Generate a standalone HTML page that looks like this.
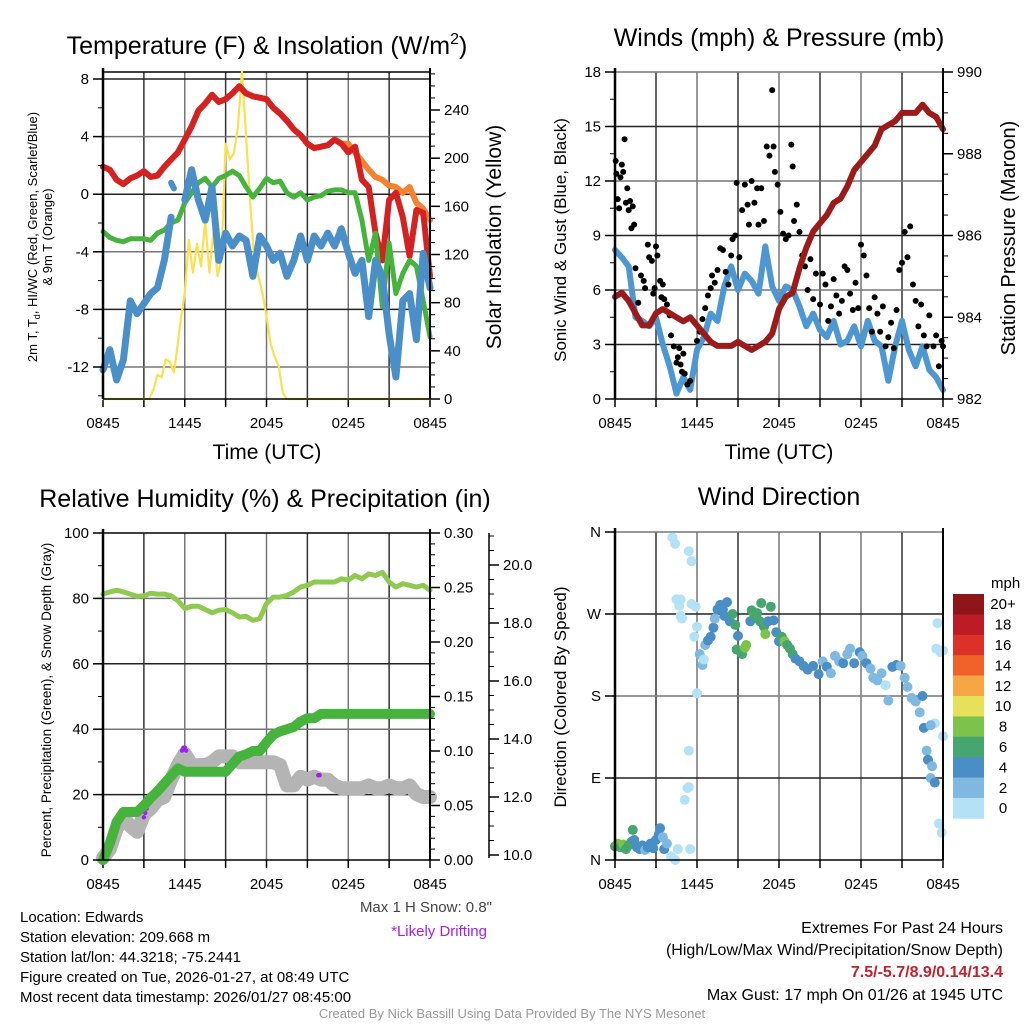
<!DOCTYPE html>
<html><head><meta charset="utf-8"><style>
body{margin:0;background:#fff}
svg{display:block;font-family:"Liberation Sans",sans-serif}
</style></head><body>
<svg id="fig" width="1024" height="1024" viewBox="0 0 1024 1024" xmlns="http://www.w3.org/2000/svg">
<text x="267" y="54" font-size="25" text-anchor="middle">Temperature (F) &amp; Insolation (W/m<tspan font-size="16" dy="-10">2</tspan><tspan dy="10">)</tspan></text>
<text x="779" y="46" font-size="25" text-anchor="middle">Winds (mph) &amp; Pressure (mb)</text>
<text x="265" y="507" font-size="25" text-anchor="middle">Relative Humidity (%) &amp; Precipitation (in)</text>
<text x="779" y="505" font-size="25" text-anchor="middle">Wind Direction</text>
<text transform="translate(37,237) rotate(-90)" font-size="13" text-anchor="middle">2m T, T<tspan font-size="9" dy="3">d</tspan><tspan dy="-3">, HI/WC (Red, Green, Scarlet/Blue)</tspan></text>
<text transform="translate(52,237) rotate(-90)" font-size="13" text-anchor="middle">&amp; 9m T (Orange)</text>
<text transform="translate(501,237) rotate(-90)" font-size="21" text-anchor="middle">Solar Insolation (Yellow)</text>
<text transform="translate(566,240) rotate(-90)" font-size="17" text-anchor="middle">Sonic Wind &amp; Gust (Blue, Black)</text>
<text transform="translate(1015,238) rotate(-90)" font-size="20" text-anchor="middle">Station Pressure (Maroon)</text>
<text transform="translate(51,700) rotate(-90)" font-size="13.5" text-anchor="middle">Percent, Precipitation (Green), &amp; Snow Depth (Gray)</text>
<text transform="translate(566,697) rotate(-90)" font-size="17" text-anchor="middle">Direction (Colored By Speed)</text>
<text x="267" y="459" font-size="21" text-anchor="middle">Time (UTC)</text>
<text x="779" y="459" font-size="21" text-anchor="middle">Time (UTC)</text>
<g font-size="15">
<text x="20" y="922">Location: Edwards</text>
<text x="20" y="942">Station elevation: 209.668 m</text>
<text x="20" y="962">Station lat/lon: 44.3218; -75.2441</text>
<text x="20" y="982">Figure created on Tue, 2026-01-27, at 08:49 UTC</text>
<text x="20" y="1002">Most recent data timestamp: 2026/01/27 08:45:00</text>
</g>
<text x="492" y="912" font-size="15" fill="#444" text-anchor="end">Max 1 H Snow: 0.8"</text>
<text x="487" y="936" font-size="15" fill="#a020f0" text-anchor="end">*Likely Drifting</text>
<g font-size="16" text-anchor="end">
<text x="1003" y="933">Extremes For Past 24 Hours</text>
<text x="1003" y="955">(High/Low/Max Wind/Precipitation/Snow Depth)</text>
<text x="1003" y="977" fill="#c8202a" font-weight="bold">7.5/-5.7/8.9/0.14/13.4</text>
<text x="1003" y="1000">Max Gust: 17 mph On 01/26 at 1945 UTC</text>
</g>
<text x="512" y="1018" font-size="13" fill="#999" text-anchor="middle">Created By Nick Bassill Using Data Provided By The NYS Mesonet</text>
</svg>
<script>
// ---- data ----
const halfHours = [0,0.5,1,1.5,2,2.5,3,3.5,4,4.5,5,5.5,6,6.5,7,7.5,8,8.5,9,9.5,10,10.5,11,11.5,12,12.5,13,13.5,14,14.5,15,15.5,16,16.5,17,17.5,18,18.5,19,19.5,20,20.5,21,21.5,22,22.5,23,23.5,24];
const xTickLabels = ["0845","1445","2045","0245","0845"];
const tempRed = [1.9,1.7,1.0,0.7,1.1,1.3,1.6,1.2,1.3,1.9,2.4,2.9,3.8,4.7,5.8,6.3,6.9,6.4,6.6,7.0,7.5,7.0,6.8,6.7,6.6,6.0,5.6,5.1,4.5,4.1,3.5,3.2,3.3,3.4,3.8,3.5,2.9,3.3,1.0,0.5,-2.7,-4.6,-0.4,0.1,-1.6,-4.3,-1.1,-1.3,-5.7];
const tempOrange = [1.9,1.7,1.0,0.7,1.1,1.3,1.6,1.2,1.3,1.9,2.4,2.9,3.8,4.7,5.8,6.3,6.9,6.4,6.6,7.0,7.5,7.0,6.8,6.7,6.6,6.0,5.6,5.1,4.5,4.1,3.5,3.2,3.3,3.4,3.8,3.5,3.5,2.9,2.3,1.7,1.2,1.0,0.6,0.5,0.1,0.5,-0.6,-1.0,-1.8];
const dewGreen = [-2.6,-3.0,-3.2,-3.3,-3.1,-3.1,-3.1,-3.2,-2.7,-2.5,-2.0,-1.8,-0.6,0.1,0.8,1.1,0.5,1.1,1.3,1.6,1.3,0.5,-0.2,0.4,1.1,0.8,0.9,0.1,-0.2,0.1,-0.4,-0.2,-0.1,0.2,0.3,0.3,0.1,0.1,-1.8,-4.6,-2.7,-7.8,-3.4,-6.9,-5.5,-4.6,-5.0,-7.4,-9.9];
const chillBlue = [-12.2,-10.8,-12.9,-11.5,-7.4,-8.3,-7.6,-6.9,-6.5,-4.6,-1.6,null,-0.4,1.7,-0.4,-1.8,0.5,-4.6,-2.7,-3.6,-2.9,-3.2,-5.7,-2.9,-3.6,-4.6,-4.1,-5.7,-4.6,-2.9,-4.6,-2.9,-3.6,-2.7,-3.6,-2.4,-4.1,-5.5,-4.6,-8.5,-4.6,-5.7,-9.7,-12.7,-7.4,-6.9,-10.1,-4.1,-6.5];
const chillExtraHours = [5.0,5.2];
const chillExtraValues = [0.8,0.4];
const insolHours = [0,3.4,3.7,4.0,4.3,4.6,4.9,5.2,5.4,5.7,6.0,6.3,6.6,6.9,7.2,7.5,7.8,8.1,8.4,8.7,9.0,9.3,9.6,9.9,10.2,10.5,10.8,11.1,11.4,11.7,12.0,12.3,12.6,12.9,13.2,13.5,24];
const insolValues = [0,0,8,20,18,33,31,22,38,66,88,132,105,129,110,149,105,138,102,116,212,199,204,226,272,218,163,116,102,88,69,46,35,27,5,0,0];

const pressure = [984.5,984.6,984.4,984.1,983.8,983.8,984.1,984.2,984.1,984.0,983.9,984.0,983.8,983.6,983.4,983.3,983.3,983.3,983.4,983.3,983.2,983.3,983.4,983.6,984.2,984.5,984.6,985.2,985.7,986.1,986.3,986.5,986.8,986.9,987.2,987.6,987.8,988.0,988.2,988.6,988.7,988.8,989.0,989.0,989.0,989.2,989.0,988.9,988.6];
const sonicWind = [8.2,7.8,7.3,4.5,4.3,4.0,4.5,3.0,1.8,0.3,1.2,0.5,2.7,3.4,4.7,4.3,6.2,7.3,6.0,6.9,6.5,5.8,8.4,6.2,5.4,6.2,6.0,5.1,4.0,4.7,3.8,3.4,4.3,3.0,3.2,4.0,2.9,4.3,3.2,2.9,1.0,2.9,4.3,2.7,1.8,2.9,1.6,1.2,0.5];
const gustHours = [0.05,0.1,0.2,0.3,0.4,0.5,0.6,0.7,0.8,0.9,1,1.1,1.2,1.3,1.4,1.5,1.7,1.9,2.1,2.2,2.4,2.5,2.7,2.8,2.9,3,3.1,3.3,3.4,3.5,3.6,3.8,4,4.1,4.3,4.5,4.6,4.7,4.8,4.9,5,5.1,5.3,5.5,6,6.2,6.4,6.6,6.8,7,7.1,7.3,7.5,7.7,7.9,8.1,8.3,8.5,8.6,8.8,8.9,9.1,9.3,9.5,9.7,9.8,10,10.2,10.4,10.5,10.7,10.9,11.1,11.3,11.5,11.6,11.7,11.9,12.1,12.3,12.5,12.7,12.9,13,13.1,13.3,13.5,13.7,13.9,14.1,14.3,14.5,14.7,15,15.2,15.4,15.6,15.8,16,16.2,16.4,16.6,16.8,17,17.2,17.4,17.6,17.8,18,18.2,18.4,18.6,18.8,19,19.2,19.4,19.6,19.8,20,20.2,20.4,20.6,20.8,21,21.2,21.4,21.6,21.8,22,22.2,22.4,22.6,22.8,23,23.3,23.5,23.7,23.9,24];
const gustValues = [13.1,12.4,11,10.5,12.2,12.9,12.5,14.3,10.8,11.6,10.4,10.9,9.4,10.6,9.6,7.2,5.3,6.8,6.5,6.1,8.5,7.8,7.6,5.8,6.1,8.4,7.9,6.5,5.6,6.3,5.5,5.2,4.6,3.5,2.9,2.0,2.3,2.8,1.9,1.5,2.5,1.4,0.8,1.0,3.2,3.7,4.4,5.0,5.7,6.1,6.8,6.4,7.1,8.3,8.2,7.0,6.3,7.9,8.8,9.0,11.9,7.8,10.4,11.8,10.7,9.6,12.0,10.8,11.6,9.6,11.6,9.8,13.9,13.4,17.0,13.9,12.5,11.8,10.3,9.1,8.8,9.0,14.0,12.8,9.8,10.7,9.2,7.9,7.3,6.0,7.7,5.5,6.9,5.2,6.9,6.3,4.3,5.1,6.6,5.7,4.7,5.4,7.3,7.1,5.8,4.9,6.4,5.0,8.5,7.9,6.8,5.0,3.7,5.6,4.7,3.7,5.1,2.9,3.4,4.2,2.8,4.9,7.1,7.5,9.2,7.8,9.5,6.3,5.4,4.0,5.2,3.5,2.9,4.6,2.9,3.5,1.8,3.2,2.9];

const rhPercent = [81.3,82,82.5,82,81.3,80.6,80.8,81.6,81.3,81.3,80.8,79.3,76.9,77.6,77.6,76.6,75.6,76.4,76.6,75.6,74.3,74.5,73.3,73.8,78.4,80.4,80.4,80.9,82,83.5,84,85,85,85,85,86,85.6,87,86,87.5,87,88,85,83.5,84.5,84,83.5,84,82.5];
const precipIn = [0,0.015,0.035,0.044,0.044,0.044,0.05,0.057,0.063,0.07,0.077,0.084,0.081,0.081,0.081,0.081,0.081,0.081,0.081,0.088,0.095,0.097,0.1,0.1,0.108,0.115,0.118,0.12,0.122,0.127,0.13,0.13,0.134,0.134,0.134,0.134,0.134,0.134,0.134,0.134,0.134,0.134,0.134,0.134,0.134,0.134,0.134,0.134,0.134];
const snowDepth = [9.9,10.2,10.9,11.3,11.0,10.8,11.4,11.6,11.9,12.0,12.6,13.1,13.5,13.1,13.1,13.1,13.2,13.4,13.4,13.4,13.2,13.2,13.2,13.2,13.2,13.2,13.1,12.4,12.4,12.7,12.6,12.7,12.6,12.6,12.4,12.3,12.3,12.3,12.3,12.4,12.3,12.3,12.4,12.3,12.3,12.4,12.1,12.0,12.0];
const driftHours = [3.0,3.1,3.2,3.3,3.4,5.8,5.9,6.0,6.1,15.8,15.9];
const driftDepth = [11.3,11.45,11.6,11.75,11.9,13.6,13.7,13.7,13.6,12.75,12.75];

const dirHours = [0,0.2,0.4,0.6,0.8,1,1.2,1.3,1.4,1.6,1.8,2,2.2,2.4,2.6,2.8,3,3.2,3.3,3.5,3.6,3.8,4.1,4.4,4.6,4.2,4.4,5.4,5.6,4.5,4.8,4.7,4.8,4.9,5.6,5.9,5.4,5.3,5.1,5.4,5.5,6,5.8,6,6.2,6.4,6.5,6.6,6.8,7,7.2,7.3,7.5,7.7,7.9,8,8.2,8.4,8.6,8.8,8.9,9,9.2,9.3,9.5,9.6,9.9,10,10.2,10.4,10.6,10.7,10.9,11,11.2,11.4,11.6,11.8,12,12.2,12.4,12.6,12.8,13,13.2,13.5,13.8,14.1,14.5,14.9,15.2,15.5,15.8,16.1,16.4,16.7,17,17.2,17.5,17.9,18.1,18.4,18.7,18.9,19.2,19.5,19.8,20,20.3,20.6,20.9,21.2,21.4,21.7,22,22.3,22.5,22.6,22.8,22.9,23.1,23.2,23.4,23.5,23.6,23.8,24,24,23.7,23.9,23.4,23.1];
const dirDegrees = [15,18,14,17,12,16,20,33,22,14,12,16,11,14,18,13,22,28,35,25,12,18,4,0,12,354,347,339,328,286,286,279,268,265,281,278,120,79,66,80,12,256,245,183,226,214,220,236,241,245,255,265,275,280,275,268,283,262,270,258,231,246,228,226,233,236,262,274,268,271,262,282,256,248,262,278,263,250,240,245,240,236,232,226,221,218,213,209,213,204,218,212,205,224,218,216,226,232,216,228,224,216,210,200,197,205,192,175,212,214,213,200,190,178,174,162,180,145,120,110,90,103,150,232,260,228,230,136,40,30,85,148];
const dirSpeeds = [7,8,7,8,6,7,6,6,4,4,4,4,3,4,4,4,4,4,4,3,4,3,1,0,1,0,0,0,0,0,0,0,0,0,0,0,0,0,0,0,0,1,0,1,2,2,1,3,4,4,4,3,4,4,4,4,4,5,6,6,6,4,7,6,8,8,5,6,6,7,6,6,7,8,4,6,4,4,4,6,8,6,6,6,4,4,4,4,4,4,3,4,3,3,2,4,3,3,4,4,3,4,3,2,2,2,1,3,4,4,3,3,3,2,2,2,4,4,3,4,3,3,1,1,1,1,0,1,0,0,4,2];
const speedLabels = ["20+","18","16","14","12","10","8","6","4","2","0"];
const speedColors = ["#b3e2f7","#7fb9e2","#4a8ec6","#47a66f","#7cc24b","#e6e05a","#f6a642","#f0622a","#db3128","#bd1c26","#8e1518"];

// ---- helpers ----
const NS = "http://www.w3.org/2000/svg";
const svg = document.getElementById("fig");
function mk(tag, attrs, parent) {
  const e = document.createElementNS(NS, tag);
  for (const k in attrs) e.setAttribute(k, attrs[k]);
  (parent || svg).appendChild(e);
  return e;
}
function lin(d0, d1, r0, r1) { return v => r0 + (v - d0) / (d1 - d0) * (r1 - r0); }
function pathFrom(xs, ys, fx, fy) {
  let d = "", pen = false;
  for (let i = 0; i < xs.length; i++) {
    if (ys[i] === null) { pen = false; continue; }
    d += (pen ? "L" : "M") + fx(xs[i]).toFixed(1) + "," + fy(ys[i]).toFixed(1);
    pen = true;
  }
  return d;
}
function frame(L, R, T, B, name) {
  const g = mk("g", {});
  
  
  const fx = lin(0, 24, L, R);
  for (let h = 3; h < 24; h += 3) {
    const gl = mk("line", {x1: fx(h), x2: fx(h), y1: T, y2: B, stroke: h % 6 ? "#333" : "#777", "stroke-width": 1.5}, g);
    
    
  }
  for (let h = 0; h <= 24; h += 3) {
    mk("line", {x1: fx(h), x2: fx(h), y1: B, y2: B + 8, stroke: "#000", "stroke-width": 1.5}, g);
  }
  for (let i = 0; i < xTickLabels.length; i++) {
    const t = mk("text", {x: fx(i * 6), y: B + 29, "font-size": 15, "text-anchor": "middle"}, g);
    t.textContent = xTickLabels[i];
    
    
  }
  return {g, fx};
}
function hgrid(g, ys, L, R) {
  ys.forEach((y, i) => {
    const gl = mk("line", {x1: L, x2: R, y1: y, y2: y, stroke: i % 2 ? "#777" : "#222", "stroke-width": 1.5}, g);
    
    
  });
}
function yAxis(g, x, side, ticks, labels, fy, minorStep, lo, hi) {
  const dir = side === "left" ? -1 : 1;
  if (minorStep) for (let v = lo; v <= hi + 1e-9; v += minorStep) {
    mk("line", {x1: x, x2: x + dir * 5, y1: fy(v), y2: fy(v), stroke: "#000", "stroke-width": 1}, g);
  }
  ticks.forEach((v, i) => {
    mk("line", {x1: x, x2: x + dir * 10, y1: fy(v), y2: fy(v), stroke: "#000", "stroke-width": 1.5}, g);
    const t = mk("text", {x: x + dir * 14, y: fy(v) + 5, "font-size": 15, "text-anchor": side === "left" ? "end" : "start"}, g);
    t.textContent = labels[i];
    
    
  });
}
function line(g, xs, ys, fx, fy, color, w, name) {
  const p = mk("path", {d: pathFrom(xs, ys, fx, fy), fill: "none", stroke: color, "stroke-width": w, "stroke-linejoin": "round", "stroke-linecap": "round"}, g);
  
  
  return p;
}

// ---- panel 1: temperature ----
(function () {
  const L = 103, R = 430, T = 72, B = 399;
  const {g, fx} = frame(L, R, T, B, "temperature-panel");
  const fy = lin(8, -12, 79, 367);
  const fy2 = lin(0, 240, 399, 110);
  hgrid(g, [fy(8), fy(4), fy(0), fy(-4), fy(-8), fy(-12)], L, R);
  mk("line", {x1: L, x2: R, y1: T, y2: T, stroke: "#000", "stroke-width": 1.5}, g);
  line(g, insolHours, insolValues, fx, fy2, "#fde050", 2.2, "insolation-line");
  line(g, halfHours, tempOrange, fx, fy, "#f58231", 6, "temp-9m-line");
  line(g, halfHours, tempRed, fx, fy, "#d42222", 6, "temp-2m-line");
  line(g, halfHours, dewGreen, fx, fy, "#46b43c", 5, "dewpoint-line");
  line(g, halfHours, chillBlue, fx, fy, "#4a8fc8", 7, "windchill-line");
  line(g, chillExtraHours, chillExtraValues, fx, fy, "#4a8fc8", 6, "windchill-fragment");
  mk("line", {x1: L, x2: L, y1: T - 4, y2: B, stroke: "#000", "stroke-width": 2.5}, g);
  mk("line", {x1: R, x2: R, y1: T - 4, y2: B, stroke: "#000", "stroke-width": 2}, g);
  mk("line", {x1: L, x2: R, y1: B, y2: B, stroke: "#000", "stroke-width": 1.5}, g);
  yAxis(g, L, "left", [8, 4, 0, -4, -8, -12], ["8", "4", "0", "-4", "-8", "-12"], fy, 2, -14, 8);
  yAxis(g, R, "right", [0, 40, 80, 120, 160, 200, 240], ["0", "40", "80", "120", "160", "200", "240"], fy2, 10, 0, 270);
})();

// ---- panel 2: wind & pressure ----
(function () {
  const L = 615, R = 943, T = 72, B = 399;
  const {g, fx} = frame(L, R, T, B, "wind-panel");
  const fy = lin(0, 18, B, T);
  const fy2 = lin(982, 990, B, T);
  hgrid(g, [fy(3), fy(6), fy(9), fy(12), fy(15), fy(18)], L, R);
  line(g, halfHours, sonicWind, fx, fy, "#4d97d3", 6, "sonic-wind-line");
  gustHours.forEach((h, i) => {
    const c = mk("circle", {cx: fx(h), cy: fy(gustValues[i]), r: 3, fill: "#000"}, g);
    
    
  });
  line(g, halfHours, pressure, fx, fy2, "#9b1b1b", 6, "pressure-line");
  mk("line", {x1: L, x2: L, y1: T - 4, y2: B, stroke: "#000", "stroke-width": 2.5}, g);
  mk("line", {x1: R, x2: R, y1: T - 4, y2: B, stroke: "#000", "stroke-width": 2}, g);
  mk("line", {x1: L, x2: R, y1: B, y2: B, stroke: "#000", "stroke-width": 1.5}, g);
  yAxis(g, L, "left", [0, 3, 6, 9, 12, 15, 18], ["0", "3", "6", "9", "12", "15", "18"], fy, 1.5, 0, 18);
  yAxis(g, R, "right", [982, 984, 986, 988, 990], ["982", "984", "986", "988", "990"], fy2, 0.5, 982, 990);
})();

// ---- panel 3: RH, precip, snow ----
(function () {
  const L = 103, R = 430, T = 533, B = 860;
  const {g, fx} = frame(L, R, T, B, "humidity-panel");
  const fy = lin(0, 100, B, T);
  const fyp = lin(0, 0.30, B, T);
  const fys = lin(10, 12, 855, 797);
  hgrid(g, [fy(20), fy(40), fy(60), fy(80)], L, R);
  line(g, halfHours, snowDepth, fx, fys, "#b4b4b4", 14, "snow-depth-line");
  driftHours.forEach((h, i) => {
    const c = mk("circle", {cx: fx(h), cy: fys(driftDepth[i]), r: 2.2, fill: "#a020f0"}, g);
    
    
  });
  line(g, halfHours, precipIn, fx, fyp, "#46b43c", 10, "precipitation-line");
  line(g, halfHours, rhPercent, fx, fy, "#8fca50", 5, "humidity-line");
  mk("line", {x1: L, x2: L, y1: T - 4, y2: B, stroke: "#000", "stroke-width": 2.5}, g);
  mk("line", {x1: R, x2: R, y1: T - 4, y2: B, stroke: "#000", "stroke-width": 2}, g);
  mk("line", {x1: L, x2: R, y1: B, y2: B, stroke: "#000", "stroke-width": 1.5}, g);
  mk("line", {x1: L, x2: R, y1: T, y2: T, stroke: "#000", "stroke-width": 1.5}, g);
  yAxis(g, L, "left", [0, 20, 40, 60, 80, 100], ["0", "20", "40", "60", "80", "100"], fy, 10, 0, 100);
  yAxis(g, R, "right", [0, 0.05, 0.10, 0.15, 0.20, 0.25, 0.30], ["0.00", "0.05", "0.10", "0.15", "0.20", "0.25", "0.30"], fyp, 0.01, 0, 0.30);
  const sx = 489;
  mk("line", {x1: sx, x2: sx, y1: T, y2: B - 2, stroke: "#000", "stroke-width": 1.5}, g);
  yAxis(g, sx, "right", [10, 12, 14, 16, 18, 20], ["10.0", "12.0", "14.0", "16.0", "18.0", "20.0"], fys, 0.5, 10, 21);
})();

// ---- panel 4: wind direction ----
(function () {
  const L = 615, R = 943, T = 532, B = 860;
  const {g, fx} = frame(L, R, T, B, "direction-panel");
  const fy = lin(0, 360, B, T);
  hgrid(g, [fy(90), fy(180), fy(270), fy(360)], L, R);
  dirHours.forEach((h, i) => {
    const bin = Math.min(10, Math.floor(dirSpeeds[i] / 2));
    const c = mk("circle", {cx: fx(h), cy: fy(dirDegrees[i]), r: 5, fill: speedColors[bin]}, g);
    
    
  });
  mk("line", {x1: L, x2: L, y1: T - 4, y2: B, stroke: "#000", "stroke-width": 2.5}, g);
  mk("line", {x1: R, x2: R, y1: T - 4, y2: B, stroke: "#000", "stroke-width": 2}, g);
  mk("line", {x1: L, x2: R, y1: B, y2: B, stroke: "#000", "stroke-width": 1.5}, g);
  yAxis(g, L, "left", [0, 90, 180, 270, 360], ["N", "E", "S", "W", "N"], fy, 0, 0, 360);
  const cb = mk("g", {});
  
  
  const t0 = mk("text", {x: 991, y: 588, "font-size": 15}, cb);
  t0.textContent = "mph";
  const bh = 20.4;
  speedLabels.forEach((lab, i) => {
    const r = mk("rect", {x: 953, y: 594 + i * bh, width: 31, height: bh + 0.3, fill: speedColors[10 - i]}, cb);
    
    
    const t = mk("text", {x: 1003, y: 594 + i * bh + bh / 2 + 5, "font-size": 15, "text-anchor": "middle"}, cb);
    t.textContent = lab;
    
    
  });
})();
</script>
</body></html>
